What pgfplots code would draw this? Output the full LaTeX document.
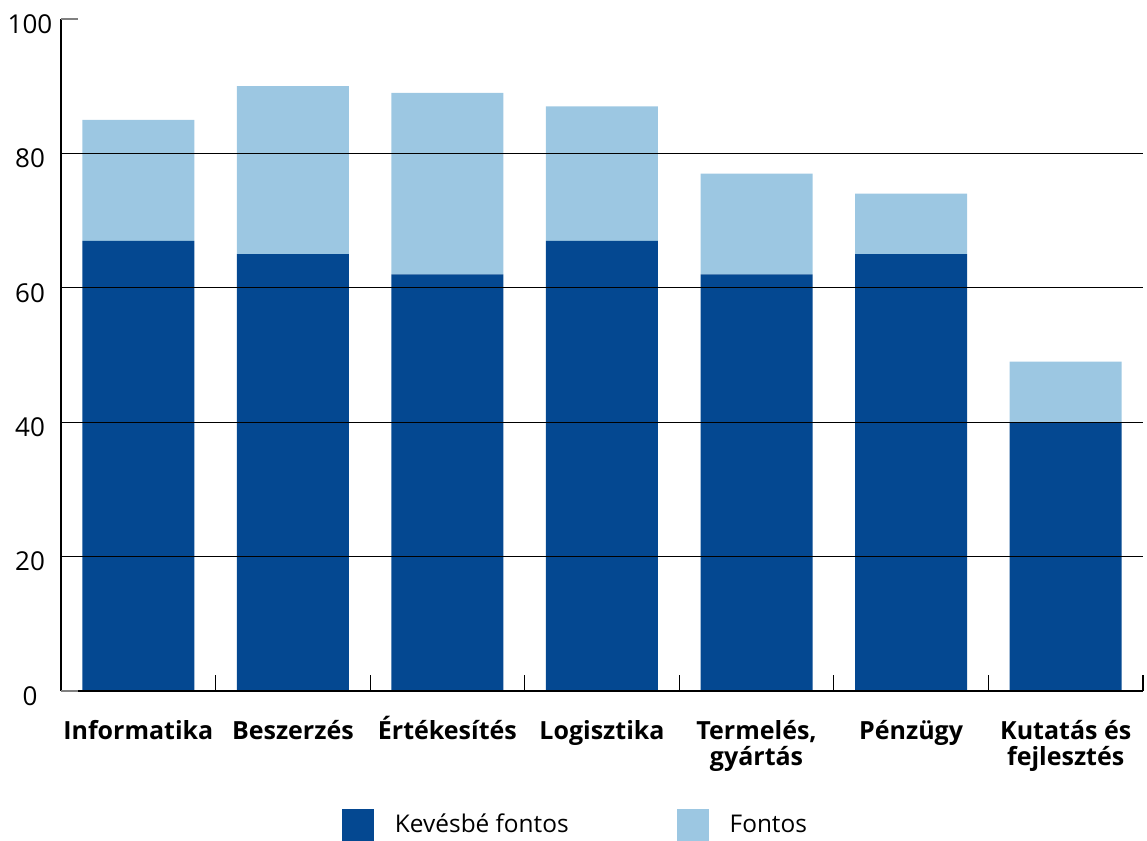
\documentclass[border=0pt]{standalone}
\usepackage{fontspec}
\setmainfont{Open Sans}
\usepackage{pgfplots}
\pgfplotsset{compat=1.18}
\definecolor{darkblue}{HTML}{044891}
\definecolor{lightblue}{HTML}{9CC7E2}
% two centred lines whose baseline is the first line
\newcommand{\twoline}[2]{\vtop{\halign{\hfil##\hfil\cr #1\cr #2\cr}}}
\begin{document}
\begin{tikzpicture}
\useasboundingbox (-30.5pt,-75pt) rectangle (543pt,345.5pt);
\begin{axis}[
  at={(0pt,0pt)}, anchor=south west,
  scale only axis, width=541pt, height=336pt,
  ybar stacked, bar width=56pt,
  xmin=-0.5, xmax=6.5, ymin=0, ymax=100,
  axis lines*=left,
  axis on top,
  x axis line style={line width=1pt},
  y axis line style={line width=0.6pt},
  xtick={0,...,6},
  xticklabels={Informatika, Beszerzés, Értékesítés, Logisztika,
    {\twoline{Termelés,}{gyártás}}, Pénzügy, {\twoline{Kutatás és}{fejlesztés}}},
  major x tick style={draw=none},
  minor xtick={0.5,1.5,...,6.5},
  minor tick length=8pt,
  minor x tick style={line width=0.6pt, black},
  tick align=inside,
  xticklabel style={anchor=base, yshift=-24pt,
    font=\fontsize{12.5}{13}\selectfont\bfseries},
  ytick={20,40,60,80},
  major y tick style={draw=none},
  ymajorgrids,
  grid style={black, line width=0.6pt},
  extra y ticks={0,100},
  extra y tick style={grid=none, major tick length=8.5pt,
    major y tick style={draw=gray, line width=0.8pt}},
  /pgf/number format/assume math mode=true,
  yticklabel style={anchor=center, xshift=-15.5pt, yshift=-2.5pt,
    font=\fontsize{13}{15}\selectfont},
  legend style={at={(rel axis cs:0.2597,-0.2232)}, anchor=south west,
    draw=none, inner sep=0pt, outer sep=0pt,
    font=\fontsize{12.2}{14}\selectfont,
    nodes={inner sep=0pt},
    /tikz/every odd column/.append style={column sep=10.5pt},
    /tikz/every even column/.append style={column sep=54pt}},
  legend columns=2,
  legend image code/.code={\fill (0pt,-8pt) rectangle (16pt,8pt);},
]
\addplot[fill=darkblue, draw=none] coordinates {
  (0,67) (1,65) (2,62) (3,67) (4,62) (5,65) (6,40)};
\addplot[fill=lightblue, draw=none] coordinates {
  (0,18) (1,25) (2,27) (3,20) (4,15) (5,9) (6,9)};
\legend{Kevésbé fontos, Fontos}
\end{axis}
\end{tikzpicture}
\end{document}
